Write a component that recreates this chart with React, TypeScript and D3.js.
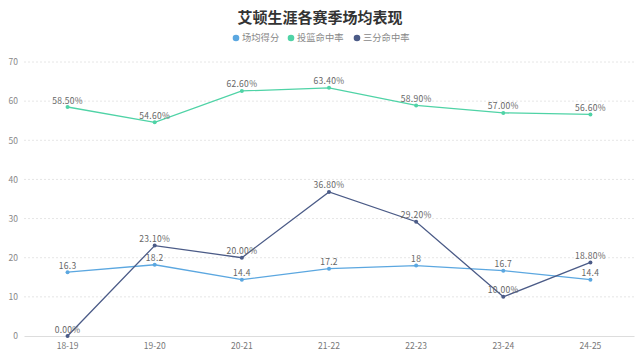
import { useEffect, useRef } from 'react'
import * as d3 from 'd3'

const seasons = ['18-19', '19-20', '20-21', '21-22', '22-23', '23-24', '24-25']
const points = [16.3, 18.2, 14.4, 17.2, 18, 16.7, 14.4]
const fgPct = [58.5, 54.6, 62.6, 63.4, 58.9, 57.0, 56.6]
const threePct = [0, 23.1, 20.0, 36.8, 29.2, 10.0, 18.8]
const yTicks = [0, 10, 20, 30, 40, 50, 60, 70]

const W = 640
const H = 361
const MARGIN = { top: 62, right: 6, bottom: 25, left: 24 }
const FONT = '"Noto Sans CJK SC", "Noto Sans", sans-serif'

const SERIES = [
  { name: '场均得分', values: points, color: '#5ba7e0', fmt: (v: number) => String(v) },
  { name: '投篮命中率', values: fgPct, color: '#4fd3a6', fmt: (v: number) => v.toFixed(2) + '%' },
  { name: '三分命中率', values: threePct, color: '#4b5b87', fmt: (v: number) => v.toFixed(2) + '%' },
]

export default function App() {
  const svgRef = useRef<SVGSVGElement>(null)

  useEffect(() => {
    if (!svgRef.current) return
    const iW = W - MARGIN.left - MARGIN.right
    const iH = H - MARGIN.top - MARGIN.bottom

    const x = d3.scaleBand().domain(seasons).range([0, iW])
    const cx = (s: string) => (x(s) ?? 0) + x.bandwidth() / 2
    const y = d3.scaleLinear().domain([0, 70]).range([iH, 0])

    const svg = d3.select(svgRef.current)
    svg.selectAll('*').remove()

    // Title
    svg.append('text')
      .attr('x', W / 2).attr('y', 23)
      .attr('text-anchor', 'middle')
      .attr('font-family', FONT).attr('font-size', 15).attr('font-weight', 700)
      .attr('fill', '#333')
      .text('艾顿生涯各赛季场均表现')

    // Legend
    const legendX = [236, 291, 357]
    SERIES.forEach((s, i) => {
      const lg = svg.append('g').attr('transform', `translate(${legendX[i]},38)`)
      lg.append('circle').attr('r', 3.3).attr('fill', s.color)
      lg.append('text')
        .attr('x', 6).attr('y', 3.3)
        .attr('font-family', FONT).attr('font-size', 9.3).attr('fill', '#888')
        .text(s.name)
    })

    const g = svg.append('g').attr('transform', `translate(${MARGIN.left},${MARGIN.top})`)

    // Grid lines
    g.append('g').selectAll('line')
      .data(yTicks.filter(t => t > 0))
      .join('line')
      .attr('x1', 0).attr('x2', iW)
      .attr('y1', d => y(d)).attr('y2', d => y(d))
      .attr('stroke', '#e6e6e6').attr('stroke-width', 1).attr('stroke-dasharray', '2 2')

    // Y axis
    g.append('g')
      .call(d3.axisLeft(y).tickValues(yTicks).tickSize(0).tickPadding(6))
      .call(ax => ax.select('.domain').remove())
      .call(ax => ax.selectAll('text').attr('font-size', 8.5).attr('fill', '#888').attr('font-family', FONT))

    // X axis
    g.append('g')
      .attr('transform', `translate(0,${iH})`)
      .call(d3.axisBottom(x).tickSize(0).tickPadding(7))
      .call(ax => ax.select('.domain').attr('stroke', '#ddd'))
      .call(ax => ax.selectAll('text').attr('font-size', 8.5).attr('fill', '#777').attr('font-family', FONT))

    // Series
    SERIES.forEach(s => {
      const data = seasons.map((k, i) => ({ k, v: s.values[i] }))
      const line = d3.line<{ k: string; v: number }>().x(d => cx(d.k)).y(d => y(d.v))
      g.append('path')
        .datum(data)
        .attr('fill', 'none')
        .attr('stroke', s.color)
        .attr('stroke-width', 1.3)
        .attr('d', line)

      g.append('g').selectAll('circle')
        .data(data)
        .join('circle')
        .attr('cx', d => cx(d.k)).attr('cy', d => y(d.v))
        .attr('r', 2).attr('fill', s.color)

      g.append('g').selectAll('text')
        .data(data)
        .join('text')
        .attr('x', d => cx(d.k)).attr('y', d => y(d.v) - 3.5)
        .attr('text-anchor', 'middle')
        .attr('font-family', FONT).attr('font-size', 8.5).attr('fill', '#666')
        .attr('letter-spacing', 0.3)
        .text(d => s.fmt(d.v))
    })
  }, [])

  return (
    <svg ref={svgRef} width={W} height={H} style={{ display: 'block', position: 'absolute', left: 0, top: 0, background: '#fff' }} />
  )
}
